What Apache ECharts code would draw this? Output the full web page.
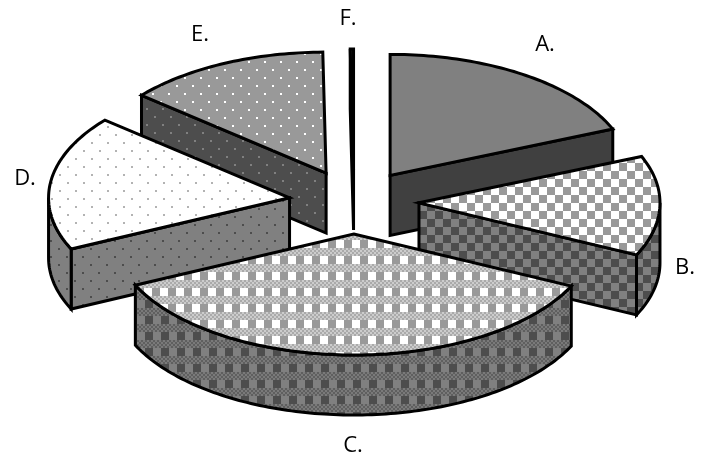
<!DOCTYPE html>
<html><head><meta charset="utf-8">
<style>html,body{margin:0;padding:0;background:#fff}#c{width:706px;height:457px}</style>
<script src="https://cdn.jsdelivr.net/npm/echarts@6/dist/echarts.min.js"></script>
</head><body><div id="c"></div>
<script>
const categories = ['A.', 'B.', 'C.', 'D.', 'E.', 'F.'];
const values = [18.75, 13.33, 35.97, 18.06, 13.67, 0.22];

// layout of the tilted, exploded pie
const CX = 354, CY = 202, RX = 241, RY = 121, DEPTH = 60, EX = 65, EY = 32;
const labelAt = [[545, 45], [685, 268], [353, 446], [25, 179], [200, 35], [348, 19]];

function tile(draw, dx, dy) {
  const c = document.createElement('canvas');
  c.width = 16; c.height = 16;
  const g = c.getContext('2d');
  for (let ox = -16; ox <= 0; ox += 16) for (let oy = -16; oy <= 0; oy += 16) {
    g.save(); g.translate(ox + dx, oy + dy); draw(g); g.restore();
  }
  return { image: c, repeat: 'repeat' };
}
function checker(a, b, dx, dy) {
  return tile(g => {
    g.fillStyle = a; g.fillRect(0, 0, 16, 16);
    g.fillStyle = b; g.fillRect(0, 0, 8, 8); g.fillRect(8, 8, 8, 8);
  }, dx, dy);
}
function dots(bg, dot, dx, dy) {
  return tile(g => {
    g.fillStyle = bg; g.fillRect(0, 0, 16, 16);
    g.fillStyle = dot;
    g.fillRect(-1, -1, 2, 2); g.fillRect(7, 7, 2, 2);
    g.fillRect(15, -1, 2, 2); g.fillRect(-1, 15, 2, 2); g.fillRect(15, 15, 2, 2);
  }, dx, dy);
}
function plaid(light, dark, b1, b2, dx, dy) {
  return tile(g => {
    g.fillStyle = light; g.fillRect(0, 0, 16, 16);
    g.fillStyle = dark; g.fillRect(0, 0, 8, 8);
    for (let y = 8; y < 16; y++) for (let x = 0; x < 16; x++) {
      g.fillStyle = ((x >> 1) + (y >> 1)) % 2 ? b1 : b2;
      g.fillRect(x, y, 1, 1);
    }
  }, dx, dy);
}
const topFills = [
  '#808080', checker('#ffffff', '#999999', 3, 11), plaid('#ffffff', '#999999', '#cccccc', '#aaaaaa', 8, 0),
  dots('#ffffff', '#b3b3b3', 4, 7), dots('#999999', '#ffffff', 1, 6), '#333333'
];
const sideFills = [
  '#404040', checker('#808080', '#4d4d4d', 3, 3), plaid('#808080', '#4d4d4d', '#7a7a7a', '#5f5f5f', 1, 12),
  dots('#808080', '#4d4d4d', 3, 1), dots('#4d4d4d', '#808080', 3, 13), '#000000'
];

const total = values.reduce((a, b) => a + b, 0);
const starts = []; values.reduce((s, v, i) => { starts[i] = s; return s + v; }, 0);
const rad = v => v / total * Math.PI * 2;
const STROKE = { stroke: '#000', lineWidth: 3, lineJoin: 'miter', miterLimit: 6 };

function slicePieces(i) {
  const a0 = rad(starts[i]), a1 = rad(starts[i] + values[i]), mid = (a0 + a1) / 2;
  const ox = CX + EX * Math.sin(mid), oy = CY - EY * Math.cos(mid);
  const pt = (a, d) => [ox + RX * Math.sin(a), oy - RY * Math.cos(a) + (d || 0)];
  const arc = (s, e) => {
    const n = Math.max(2, Math.ceil((e - s) / 0.02)), r = [];
    for (let k = 0; k <= n; k++) r.push(pt(s + (e - s) * k / n));
    return r;
  };
  const poly = (points, fill) => ({
    type: 'polygon', shape: { points }, silent: true,
    style: Object.assign({}, STROKE, { fill })
  });
  const side = sideFills[i], top = topFills[i], out = [];
  const apex = [ox, oy], apexB = [ox, oy + DEPTH];
  const wall = a => [apex, pt(a), pt(a, DEPTH), apexB];
  if (Math.cos(a0 - Math.PI / 2) < 0) out.push(poly(wall(a0), side));
  if (Math.cos(a1 + Math.PI / 2) < 0) out.push(poly(wall(a1), side));
  const s = Math.max(a0, Math.PI / 2), e = Math.min(a1, Math.PI * 1.5);
  if (e > s) {
    const upper = arc(s, e);
    const lower = upper.map(p => [p[0], p[1] + DEPTH]).reverse();
    out.push(poly(upper.concat(lower), side));
  }
  out.push(poly([apex].concat(arc(a0, a1)), top));
  return out;
}

const order = values.map((v, i) => i).sort((p, q) => {
  const m = i => rad(starts[i] + values[i] / 2);
  return -Math.cos(m(p)) * EY - (-Math.cos(m(q)) * EY);
});

const chart = echarts.init(document.getElementById('c'), null, { renderer: 'canvas' });
chart.setOption({
  animation: false,
  backgroundColor: '#fff',
  series: [{
    type: 'custom',
    coordinateSystem: 'none',
    clip: false,
    silent: true,
    data: order.map(i => [i, values[i]]),
    renderItem(params, api) {
      const i = api.value(0);
      const children = slicePieces(i);
      children.push({
        type: 'text', silent: true,
        style: {
          x: labelAt[i][0], y: labelAt[i][1], text: categories[i],
          fill: '#000', font: '22px "Open Sans"', align: 'center', verticalAlign: 'middle'
        }
      });
      return { type: 'group', children };
    }
  }]
});
</script></body></html>
